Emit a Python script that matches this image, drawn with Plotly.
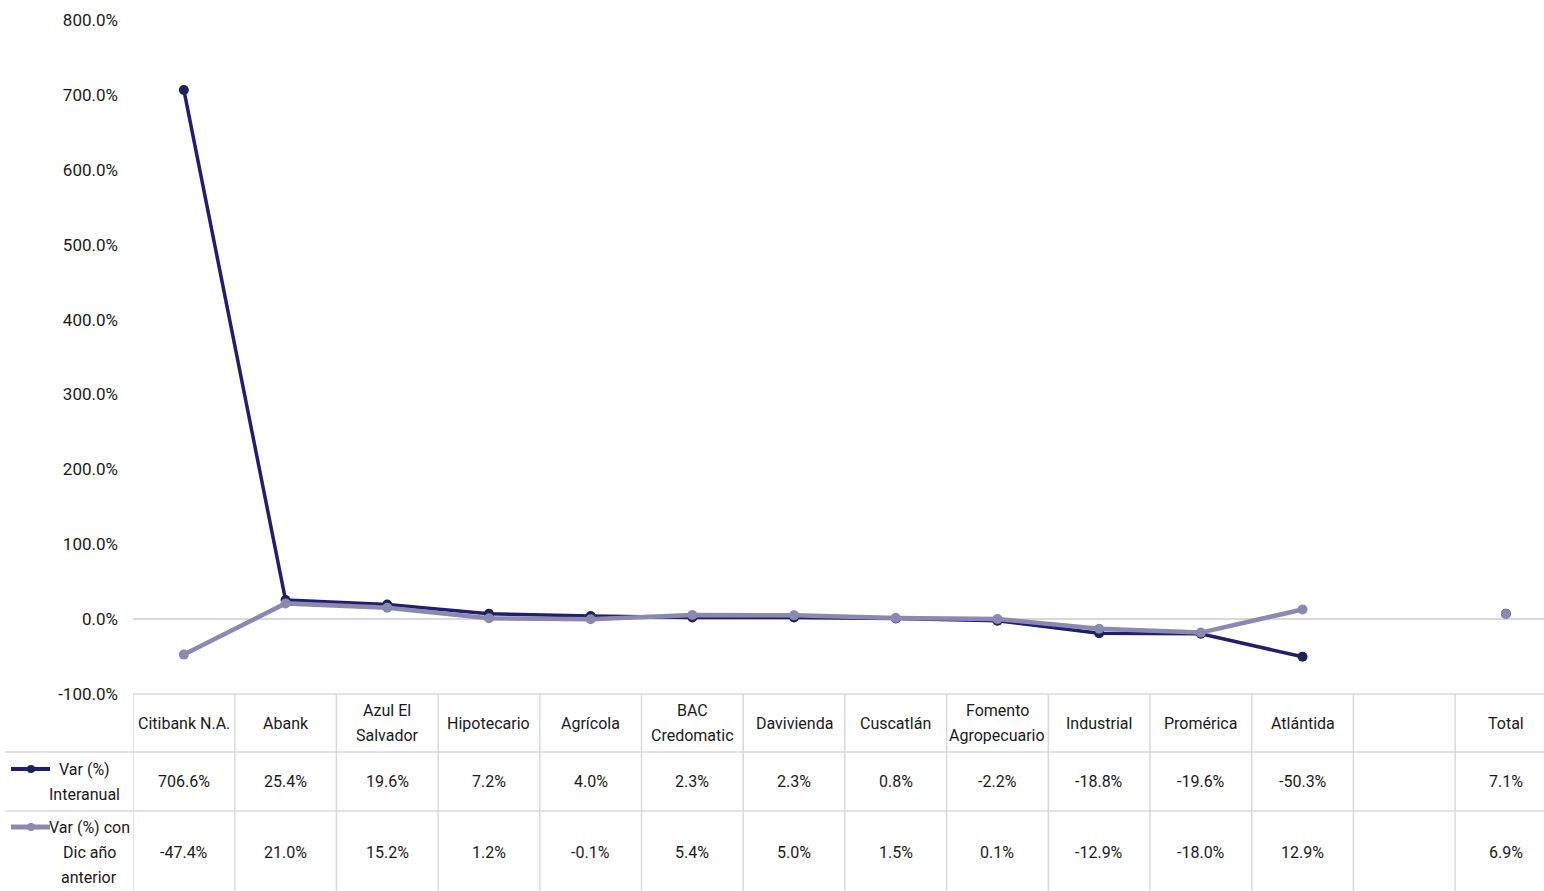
import plotly.graph_objects as go

categories = ["Citibank N.A.", "Abank", "Azul El<br>Salvador", "Hipotecario", "Agrícola",
              "BAC<br>Credomatic", "Davivienda", "Cuscatlán", "Fomento<br>Agropecuario",
              "Industrial", "Promérica", "Atlántida", "", "Total"]
var_interanual = [706.6, 25.4, 19.6, 7.2, 4.0, 2.3, 2.3, 0.8, -2.2, -18.8, -19.6, -50.3, None, 7.1]
var_dic = [-47.4, 21.0, 15.2, 1.2, -0.1, 5.4, 5.0, 1.5, 0.1, -12.9, -18.0, 12.9, None, 6.9]
series_names = ["Var (%)<br>Interanual", "Var (%) con<br>Dic año<br>anterior"]
y_ticks = [-100, 0, 100, 200, 300, 400, 500, 600, 700, 800]

DARK = "#221d6e"
DARK_MK = "#1d2453"
LIGHT = "#8b89b0"
GRID = "#d9d9d9"
TXT = "#1a1a1a"
FONT = "Roboto, Liberation Sans, sans-serif"
FS = 16

# body margin is removed in the page, so figure pixels == screen pixels
W, H = 1544, 891
L = 133
T = 20
PLOT_BOTTOM = 694
B = H - PLOT_BOTTOM
PW = W - L
PH = PLOT_BOTTOM - T
cat_w = 101.7
x_right = -0.5 + PW / cat_w


def py(screen_y):
    return (PLOT_BOTTOM - screen_y) / PH


def px(screen_x):
    return (screen_x - L) / PW


xs = list(range(len(categories)))
fig = go.Figure()
fig.add_trace(go.Scatter(x=xs, y=var_interanual, mode="lines+markers", connectgaps=False,
                         line=dict(color=DARK, width=3.5),
                         marker=dict(color=DARK_MK, size=10, line=dict(width=0)),
                         name="Var (%) Interanual", showlegend=False, cliponaxis=False))
fig.add_trace(go.Scatter(x=xs, y=var_dic, mode="lines+markers", connectgaps=False,
                         line=dict(color=LIGHT, width=4.5),
                         marker=dict(color=LIGHT, size=10, line=dict(width=0)),
                         name="Var (%) con Dic año anterior", showlegend=False, cliponaxis=False))

shapes = []
annotations = []


def add_text(x, xref, y_center, text, spacing=25):
    lines = text.split("<br>")
    n = len(lines)
    for j, ln in enumerate(lines):
        yy = y_center + (j - (n - 1) / 2) * spacing
        annotations.append(dict(x=x, y=py(yy), xref=xref, yref="paper", text=ln, showarrow=False,
                                xanchor="center", yanchor="middle",
                                font=dict(size=FS, color=TXT, family=FONT)))


# table grid
y_top, y_r1, y_r2 = 694, 752, 811
shapes.append(dict(type="line", xref="paper", yref="paper", x0=0, x1=1, y0=py(y_top), y1=py(y_top),
                   line=dict(color=GRID, width=1.5)))
for yy in (y_r1, y_r2):
    shapes.append(dict(type="line", xref="paper", yref="paper", x0=px(5), x1=1, y0=py(yy), y1=py(yy),
                       line=dict(color=GRID, width=1.5)))
for i in range(len(categories)):
    shapes.append(dict(type="line", xref="x", yref="paper", x0=i - 0.5, x1=i - 0.5,
                       y0=py(y_top), y1=py(H + 20), line=dict(color=GRID, width=1.5)))

row_y = [723, 781, 852]
for i, c in enumerate(categories):
    if c:
        add_text(i, "x", row_y[0], c)
    for r, vals in enumerate((var_interanual, var_dic)):
        v = vals[i]
        if v is not None:
            add_text(i, "x", row_y[r + 1], f"{v:.1f}%")

# legend keys in table
leg_y = [769, 827]
for k, (col, w, mk) in enumerate(zip([DARK, LIGHT], [4, 5], [DARK_MK, LIGHT])):
    yk = py(leg_y[k])
    shapes.append(dict(type="line", xref="paper", yref="paper", x0=px(11), x1=px(50), y0=yk, y1=yk,
                       line=dict(color=col, width=w)))
    shapes.append(dict(type="circle", xref="paper", yref="paper", x0=px(27), x1=px(35),
                       y0=yk - 4 / PH, y1=yk + 4 / PH, fillcolor=mk, line=dict(width=0)))
# legend labels
leg_lines = [(84, 769, 0, 0), (84, 794, 0, 1), (89, 827, 1, 0), (89, 852, 1, 1), (89, 877, 1, 2)]
for lx, ly, s, j in leg_lines:
    annotations.append(dict(x=px(lx), y=py(ly), xref="paper", yref="paper",
                            text=series_names[s].split("<br>")[j], showarrow=False,
                            xanchor="center", yanchor="middle",
                            font=dict(size=FS, color=TXT, family=FONT)))

fig.update_layout(
    width=W, height=H,
    margin=dict(l=L, r=0, t=T, b=B, autoexpand=False),
    paper_bgcolor="white", plot_bgcolor="white",
    font=dict(family=FONT, size=FS, color=TXT),
    hovermode=False,
    xaxis=dict(range=[-0.5, x_right], showticklabels=False, showgrid=False, zeroline=False,
               showline=False, ticks=""),
    yaxis=dict(range=[-100, 800], tickvals=y_ticks, ticktext=[f"{v:.1f}%" for v in y_ticks],
               showgrid=False, zeroline=True, zerolinecolor=GRID, zerolinewidth=1.5,
               showline=False, ticks="", ticklabelstandoff=14, automargin=False,
               tickfont=dict(size=17, color=TXT, family=FONT)),
    shapes=shapes, annotations=annotations,
)
fig.write_html("out.html", config={"displayModeBar": False},
               post_script="document.body.style.margin='0';document.body.style.overflow='hidden';")
